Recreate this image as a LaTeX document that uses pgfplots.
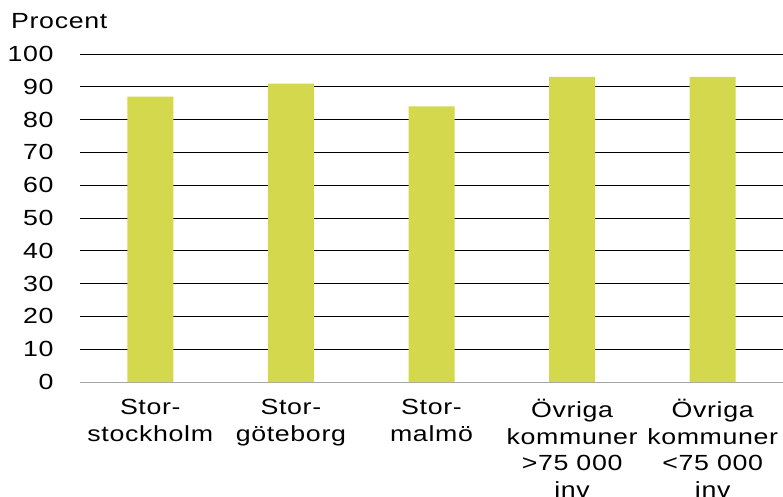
\documentclass[border=0pt]{standalone}
\usepackage{pgfplots}
\pgfplotsset{compat=1.18}
\usepackage{fontspec}
\setmainfont{Liberation Sans}[FakeStretch=1.22,LetterSpace=3]
\definecolor{barc}{RGB}{211,216,77}
\begin{document}
\begin{tikzpicture}
\begin{axis}[
  at={(0,0)}, anchor=south west,
  scale only axis, width=703bp, height=328bp,
  xmin=-0.5, xmax=4.5, ymin=0, ymax=100,
  ytick={10,20,...,100},
  extra y ticks={0},
  extra y tick style={grid style={draw=gray!70, line width=0.8bp}},
  ymajorgrids, grid style={draw=black, line width=0.7bp},
  axis line style={draw=none},
  major tick length=0pt,
  xtick={0,1,2,3,4},
  xticklabels={{Stor-\\stockholm},{Stor-\\göteborg},{Stor-\\malmö},{Övriga\\kommuner\\>75 000\\inv},{Övriga\\kommuner\\<75 000\\inv}},
  xticklabel style={align=center, font=\fontsize{22}{26.5}\selectfont, anchor=north, yshift=-14bp},
  yticklabel style={font=\fontsize{22}{26.5}\selectfont, anchor=east, xshift=-23bp},
  /pgf/number format/assume math mode=true,
  ybar, bar width=46bp,
]
\addplot[fill=barc, draw=none] coordinates {(0,87) (1,91) (2,84) (3,93) (4,93)};
\end{axis}
\node[anchor=base west, font=\fontsize{22}{26.5}\selectfont, inner sep=0pt] at (-69bp,353bp) {Procent};
\pgfresetboundingbox
\path (-80bp,-115bp) rectangle (703bp,382bp);
\end{tikzpicture}
\end{document}
